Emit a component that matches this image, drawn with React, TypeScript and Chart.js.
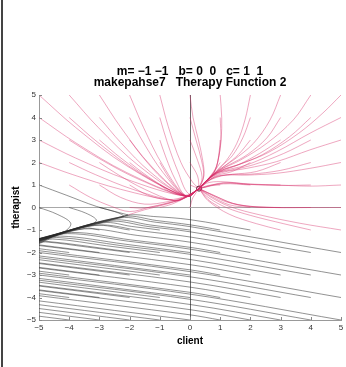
import React, { useEffect, useRef } from "react";
import { Chart, registerables } from "chart.js";

Chart.register(...registerables);

type Pt = [number, number];

const FONT = "'Liberation Sans', Arial, Helvetica, sans-serif";

const titleLines: string[] = [
  "m= \u22121 \u22121   b= 0  0   c= 1  1",
  "makepahse7   Therapy Function 2",
];
const xAxisLabel = "client";
const yAxisLabel = "therapist";
const xTickValues = [-5, -4, -3, -2, -1, 0, 1, 2, 3, 4, 5];
const yTickValues = [-5, -4, -3, -2, -1, 0, 1, 2, 3, 4, 5];
const fixedPoint: Pt[] = [[0.3, 0.84]];

// pink trajectories starting in the upper-left quarter
const pinkUpperLeft: Pt[][] = [
  [[-5, 5], [-3.79, 3.56], [-2.09, 1.85], [-0.12, 0.5], [0.3, 0.84]],
  [[-4, 5], [-3.04, 3.56], [-1.69, 1.85], [-0.12, 0.5], [0.3, 0.84]],
  [[-3, 5], [-2.29, 3.56], [-1.29, 1.85], [-0.12, 0.5], [0.3, 0.84]],
  [[-2, 5], [-1.54, 3.56], [-0.89, 1.85], [-0.12, 0.5], [0.3, 0.84]],
  [[-1, 5], [-0.72, 3.6], [-0.3, 2.0], [0.1, 1.1], [0.3, 0.84]],
  [[-5, 4], [-3.79, 2.88], [-2.09, 1.55], [-0.12, 0.5], [0.3, 0.84]],
  [[-4, 4], [-3.04, 2.88], [-1.69, 1.55], [-0.12, 0.5], [0.3, 0.84]],
  [[-3, 4], [-2.29, 2.88], [-1.29, 1.55], [-0.12, 0.5], [0.3, 0.84]],
  [[-2, 4], [-1.54, 2.88], [-0.89, 1.55], [-0.12, 0.5], [0.3, 0.84]],
  [[-1, 4], [-0.75, 2.88], [-0.4, 1.6], [-0.05, 0.62], [0.3, 0.84]],
  [[-5, 3], [-3.79, 2.2], [-2.09, 1.25], [-0.12, 0.5], [0.3, 0.84]],
  [[-4, 3], [-3.04, 2.2], [-1.69, 1.25], [-0.12, 0.5], [0.3, 0.84]],
  [[-3, 3], [-2.29, 2.2], [-1.29, 1.25], [-0.12, 0.5], [0.3, 0.84]],
  [[-2, 3], [-1.54, 2.2], [-0.89, 1.25], [-0.12, 0.5], [0.3, 0.84]],
  [[-1, 3], [-0.79, 2.2], [-0.49, 1.25], [-0.12, 0.5], [0.3, 0.84]],
  [[-5, 2], [-3.88, 1.46], [-2.3, 0.81], [-0.5, 0.3], [-0.12, 0.48], [0.3, 0.84]],
  [[-4, 2], [-3.13, 1.46], [-1.9, 0.81], [-0.5, 0.3], [-0.12, 0.48], [0.3, 0.84]],
  [[-3, 2], [-2.38, 1.46], [-1.5, 0.81], [-0.5, 0.3], [-0.12, 0.48], [0.3, 0.84]],
  [[-2, 2], [-1.54, 1.52], [-0.89, 0.95], [-0.12, 0.5], [0.3, 0.84]],
  [[-1, 2], [-0.79, 1.52], [-0.49, 0.95], [-0.12, 0.5], [0.3, 0.84]],
];

// pink trajectories near the saddle, flowing up to the node
const pinkLowerLeft: Pt[][] = [
  [[-4, 1], [-3.3, 0.45], [-2.6, 0.05], [-2.0, -0.18], [-1.32, 0.02], [-0.6, 0.25], [-0.1, 0.48], [0.3, 0.84]],
  [[-3, 1], [-2.3, 0.45], [-1.5, 0.15], [-0.7, 0.27], [-0.1, 0.5], [0.3, 0.84]],
  [[-2, 1], [-1.4, 0.55], [-0.7, 0.35], [-0.1, 0.52], [0.3, 0.84]],
  [[-1, 1], [-0.55, 0.62], [-0.05, 0.56], [0.3, 0.84]],
  [[-2, 0], [-1.5, -0.02], [-0.7, 0.2], [-0.1, 0.48], [0.3, 0.84]],
  [[-1, 0], [-0.6, 0.15], [-0.1, 0.47], [0.3, 0.84]],
  [[-2.05, -0.33], [-1.5, -0.1], [-0.7, 0.18], [-0.1, 0.47], [0.3, 0.84]],
];

// pink trajectories starting on the top edge (x >= 0)
const pinkTop: Pt[][] = [
  [[0, 5], [0.1, 4.0], [0.28, 3.0], [0.42, 2.1], [0.46, 1.4], [0.3, 0.84]],
  [[1, 5], [1.05, 4.0], [1.03, 3.0], [0.93, 2.1], [0.8, 1.57], [0.55, 1.2], [0.3, 0.84]],
  [[2, 5], [1.82, 3.89], [1.55, 2.85], [1.21, 2.1], [0.88, 1.63], [0.55, 1.2], [0.3, 0.84]],
  [[3, 5], [2.65, 3.89], [2.1, 2.85], [1.43, 2.1], [0.94, 1.66], [0.55, 1.2], [0.3, 0.84]],
  [[4, 5], [3.42, 3.89], [2.54, 2.85], [1.66, 2.1], [0.99, 1.66], [0.55, 1.2], [0.3, 0.84]],
  [[5, 5], [4.4, 4.2], [3.6, 3.3], [2.6, 2.45], [1.7, 1.95], [1.0, 1.63], [0.55, 1.2], [0.3, 0.84]],
];

// pink trajectories starting on the right edge and the bottom row
const pinkRight: Pt[][] = [
  [[5, 4], [3.97, 3.3], [2.87, 2.48], [1.88, 1.89], [1.05, 1.6], [0.55, 1.2], [0.3, 0.84]],
  [[5, 3], [3.97, 2.56], [2.87, 2.04], [1.88, 1.74], [1.05, 1.55], [0.55, 1.2], [0.3, 0.84]],
  [[5, 2], [3.97, 1.74], [2.87, 1.52], [1.88, 1.44], [1.05, 1.42], [0.55, 1.15], [0.3, 0.84]],
  [[5, 1], [3.97, 0.95], [2.87, 1.0], [1.9, 1.05], [1.0, 1.15], [0.55, 1.08], [0.3, 0.84]],
  [[5, 0], [3.5, 0.0], [2.32, 0.02], [1.43, 0.18], [0.77, 0.55], [0.3, 0.84]],
  [[5, -1], [3.64, -0.7], [2.32, -0.33], [1.32, 0.04], [0.66, 0.48], [0.3, 0.84]],
  [[4, -1], [3.1, -0.72], [2.0, -0.35], [1.2, 0.0], [0.6, 0.45], [0.3, 0.84]],
  [[3, -1], [2.2, -0.72], [1.3, -0.3], [0.6, 0.3], [0.3, 0.84]],
];

// pink trajectories starting inside the upper-right quarter
const pinkInterior: Pt[][] = [
  [[4, 4], [3.3, 3.15], [2.4, 2.35], [1.6, 1.9], [1.0, 1.63], [0.55, 1.2], [0.3, 0.84]],
  [[3, 4], [2.55, 3.1], [1.9, 2.35], [1.3, 1.9], [0.95, 1.63], [0.55, 1.2], [0.3, 0.84]],
  [[2, 4], [1.75, 3.1], [1.4, 2.3], [1.05, 1.85], [0.88, 1.6], [0.55, 1.2], [0.3, 0.84]],
  [[1, 4], [1.02, 3.0], [0.93, 2.1], [0.8, 1.57], [0.55, 1.2], [0.3, 0.84]],
  [[0, 4], [0.2, 3.0], [0.38, 2.1], [0.45, 1.4], [0.3, 0.84]],
  [[4, 3], [3.1, 2.4], [2.1, 1.9], [1.3, 1.65], [0.9, 1.55], [0.55, 1.2], [0.3, 0.84]],
  [[3, 3], [2.3, 2.4], [1.6, 1.9], [1.0, 1.6], [0.55, 1.2], [0.3, 0.84]],
  [[2, 3], [1.6, 2.35], [1.2, 1.9], [0.9, 1.6], [0.55, 1.2], [0.3, 0.84]],
  [[1, 3], [0.95, 2.3], [0.85, 1.75], [0.55, 1.2], [0.3, 0.84]],
  [[0, 3], [0.25, 2.1], [0.4, 1.35], [0.3, 0.84]],
  [[4, 2], [3, 1.65], [2, 1.48], [1.2, 1.45], [0.55, 1.15], [0.3, 0.84]],
  [[3, 2], [2.2, 1.6], [1.4, 1.47], [0.8, 1.35], [0.3, 0.84]],
  [[2, 2], [1.4, 1.6], [0.85, 1.4], [0.3, 0.84]],
  [[1, 2], [0.75, 1.5], [0.3, 0.84]],
  [[0, 2], [0.25, 1.4], [0.3, 0.84]],
  [[4, 1], [3, 0.98], [2, 1.03], [1.1, 1.1], [0.3, 0.84]],
  [[3, 1], [2, 1.02], [1.1, 1.08], [0.3, 0.84]],
  [[2, 1], [1.1, 1.05], [0.3, 0.84]],
  [[1, 1], [0.6, 0.98], [0.3, 0.84]],
  [[0, 1], [0.3, 0.84]],
  [[4, 0], [2.8, 0.0], [1.6, 0.12], [0.85, 0.5], [0.3, 0.84]],
  [[3, 0], [2, 0.04], [1.2, 0.25], [0.65, 0.6], [0.3, 0.84]],
  [[2, 0], [1.3, 0.12], [0.7, 0.5], [0.3, 0.84]],
  [[1, 0], [0.6, 0.35], [0.3, 0.84]],
  [[0, 0], [0.1, 0.45], [0.3, 0.84]],
];

// gray: line into the saddle, the separatrix and the hairpins above it
const grayUpperLeft: Pt[][] = [
  [[-5, 1], [-4.1, 0.55], [-3.1, 0.05], [-2.05, -0.33]],
  [[-2.05, -0.33], [-3.5, -0.85], [-5, -1.38]],
  [[-5, 0], [-4.4, -0.3], [-3.95, -0.7], [-4.15, -1.06], [-5, -1.39]],
  [[-4, 0], [-3.45, -0.25], [-3.1, -0.55], [-3.25, -0.74], [-5, -1.4]],
  [[-3, 0], [-2.5, -0.18], [-2.2, -0.38], [-2.45, -0.5], [-5, -1.41]],
];

// gray trajectories that merge onto the separatrix
const grayMerging: Pt[][] = [
  [[1, -1], [0, -0.77], [-1.1, -0.58], [-2.19, -0.4], [-5, -1.4]],
  [[2, -1], [0, -0.54], [-1.2, -0.4], [-2.08, -0.35], [-5, -1.39]],
  [[5, -2], [0, -0.85], [-1.16, -0.65], [-2.32, -0.46], [-5, -1.41]],
  [[0, -1], [-1.3, -0.78], [-2.59, -0.56], [-5, -1.42]],
  [[4, -2], [0, -1.08], [-1.36, -0.85], [-2.72, -0.62], [-5, -1.43]],
  [[-1, -1], [-1.94, -0.84], [-2.87, -0.68], [-5, -1.44]],
  [[3, -2], [0, -1.31], [-1.56, -1.05], [-3.12, -0.78], [-5, -1.45]],
  [[-2, -1], [-3.16, -0.8], [-5, -1.46]],
  [[-3, -1], [-3.46, -0.92], [-5, -1.47]],
  [[2, -2], [0, -1.54], [-1.75, -1.24], [-3.5, -0.95], [-5, -1.48]],
  [[1, -2], [0, -1.77], [-1.96, -1.44], [-3.92, -1.11], [-5, -1.49]],
  [[5, -3], [0, -1.85], [-2.03, -1.5], [-4.05, -1.16], [-5, -1.5]],
  [[0, -2], [-2.15, -1.63], [-4.3, -1.27], [-5, -1.52]],
  [[4, -3], [0, -2.08], [-2.2, -1.71], [-4.41, -1.33], [-5, -1.54]],
  [[-1, -2], [-2.77, -1.7], [-4.54, -1.4], [-5, -1.56]],
  [[3, -3], [0, -2.31], [-2.4, -1.9], [-4.77, -1.5], [-5, -1.58]],
  [[-2, -2], [-3.4, -1.76], [-4.79, -1.53], [-5, -1.6]],
];

// gray trajectories in the lower half drifting left
const grayParallel: Pt[][] = [
  [[-3, -2], [-5, -1.66]],
  [[-4, -2], [-5, -1.83]],
  [[2, -3], [0, -2.54], [-5, -1.69]],
  [[1, -3], [0, -2.77], [-5, -1.92]],
  [[0, -3], [-5, -2.15]],
  [[-1, -3], [-5, -2.32]],
  [[-2, -3], [-5, -2.49]],
  [[-3, -3], [-5, -2.66]],
  [[-4, -3], [-5, -2.83]],
  [[5, -4], [0, -2.85], [-5, -2.0]],
  [[4, -4], [0, -3.08], [-5, -2.23]],
  [[3, -4], [0, -3.31], [-5, -2.46]],
  [[2, -4], [0, -3.54], [-5, -2.69]],
  [[1, -4], [0, -3.77], [-5, -2.92]],
  [[0, -4], [-5, -3.15]],
  [[-1, -4], [-5, -3.32]],
  [[-2, -4], [-5, -3.49]],
  [[-3, -4], [-5, -3.66]],
  [[-4, -4], [-5, -3.83]],
  [[5, -5], [0, -3.85], [-5, -3.0]],
  [[4, -5], [0, -4.08], [-5, -3.23]],
  [[3, -5], [0, -4.31], [-5, -3.46]],
  [[2, -5], [0, -4.54], [-5, -3.69]],
  [[1, -5], [0, -4.77], [-5, -3.92]],
  [[0, -5], [-5, -4.15]],
  [[-1, -5], [-5, -4.32]],
  [[-2, -5], [-5, -4.49]],
  [[-3, -5], [-5, -4.66]],
  [[-4, -5], [-5, -4.83]],
];

const PINK = "rgba(215, 45, 105, 0.42)";
const GRAY = "rgba(40, 40, 40, 0.5)";

const fmt = (v: number) => (v < 0 ? "\u2212" + Math.abs(v) : String(v));

function curveDataset(c: Pt[], color: string) {
  return {
    data: c.map(([x, y]) => ({ x, y })),
    showLine: true,
    borderColor: color,
    borderWidth: 1,
    pointRadius: 0,
    pointHoverRadius: 0,
    tension: 0.35,
    fill: false,
  };
}

const insideTicks = {
  id: "insideTicks",
  afterDraw(chart: any) {
    const { ctx, chartArea, scales } = chart;
    ctx.save();
    ctx.strokeStyle = "#888";
    ctx.lineWidth = 1;
    for (const v of xTickValues) {
      const px = Math.round(scales.x.getPixelForValue(v)) + 0.5;
      ctx.beginPath();
      ctx.moveTo(px, chartArea.bottom);
      ctx.lineTo(px, chartArea.bottom - 3);
      ctx.stroke();
    }
    for (const v of yTickValues) {
      const py = Math.round(scales.y.getPixelForValue(v)) + 0.5;
      ctx.beginPath();
      ctx.moveTo(chartArea.left, py);
      ctx.lineTo(chartArea.left + 3, py);
      ctx.stroke();
    }
    ctx.restore();
  },
};

export default function App() {
  const ref = useRef<HTMLCanvasElement | null>(null);

  useEffect(() => {
    if (!ref.current) return;
    const datasets: any[] = [];
    [...grayParallel, ...grayMerging, ...grayUpperLeft].forEach((c) => datasets.push(curveDataset(c, GRAY)));
    [...pinkUpperLeft, ...pinkLowerLeft, ...pinkTop, ...pinkRight, ...pinkInterior].forEach((c) =>
      datasets.push(curveDataset(c, PINK))
    );
    datasets.push({
      data: fixedPoint.map(([x, y]) => ({ x, y })),
      showLine: false,
      pointRadius: 2.5,
      pointBorderWidth: 1,
      pointBorderColor: "#3a1020",
      pointBackgroundColor: "rgba(0,0,0,0)",
    });

    const chart = new Chart(ref.current, {
      type: "scatter",
      data: { datasets },
      options: {
        responsive: false,
        animation: false,
        events: [],
        layout: { padding: { left: 0, right: 5, top: 0, bottom: 0 } },
        plugins: {
          legend: { display: false },
          tooltip: { enabled: false },
          title: {
            display: true,
            text: titleLines,
            fullSize: false,
            align: "center",
            color: "#000",
            font: { family: FONT, size: 12, weight: "bold", lineHeight: 0.9 },
            padding: { top: 66, bottom: 7.4 },
          },
        },
        scales: {
          x: {
            type: "linear",
            min: -5,
            max: 5,
            afterBuildTicks: (s: any) => {
              s.ticks = xTickValues.map((v) => ({ value: v }));
            },
            afterFit: (s: any) => {
              s.height = 47;
              s.paddingLeft = 0;
              s.paddingRight = 0;
            },
            ticks: {
              autoSkip: false,
              maxRotation: 0,
              padding: 3,
              color: "#333",
              font: { family: FONT, size: 8 },
              callback: (v: any) => fmt(Number(v)),
            },
            grid: {
              drawTicks: false,
              color: (ctx: any) => (ctx.tick && ctx.tick.value === 0 ? "#6a6a6a" : "rgba(0,0,0,0)"),
            },
            border: { display: true, color: "#999", width: 1 },
            title: {
              display: true,
              text: xAxisLabel,
              color: "#000",
              font: { family: FONT, size: 10, weight: "bold" },
              padding: { top: 0, bottom: 20 },
            },
          },
          y: {
            type: "linear",
            min: -5,
            max: 5,
            afterBuildTicks: (s: any) => {
              s.ticks = yTickValues.map((v) => ({ value: v }));
            },
            afterFit: (s: any) => {
              s.width = 39;
              s.paddingTop = 0;
              s.paddingBottom = 0;
            },
            ticks: {
              autoSkip: false,
              padding: 3,
              color: "#333",
              font: { family: FONT, size: 8 },
              callback: (v: any) => fmt(Number(v)),
            },
            grid: {
              drawTicks: false,
              color: (ctx: any) => (ctx.tick && ctx.tick.value === 0 ? "#a8a8a8" : "rgba(0,0,0,0)"),
            },
            border: { display: true, color: "#999", width: 1 },
            title: {
              display: true,
              text: yAxisLabel,
              color: "#000",
              font: { family: FONT, size: 10, weight: "bold" },
              padding: { top: 10, bottom: 0 },
            },
          },
        },
      },
      plugins: [insideTicks],
    } as any);

    return () => chart.destroy();
  }, []);

  return (
    <div style={{ position: "fixed", left: 0, top: 0, width: 346, height: 367, background: "#fff" }}>
      <canvas ref={ref} width={346} height={367} style={{ display: "block", position: "absolute", left: 0, top: 0 }} />
      <div style={{ position: "absolute", left: 1, top: 0, width: 2, height: 367, background: "#444" }} />
    </div>
  );
}
